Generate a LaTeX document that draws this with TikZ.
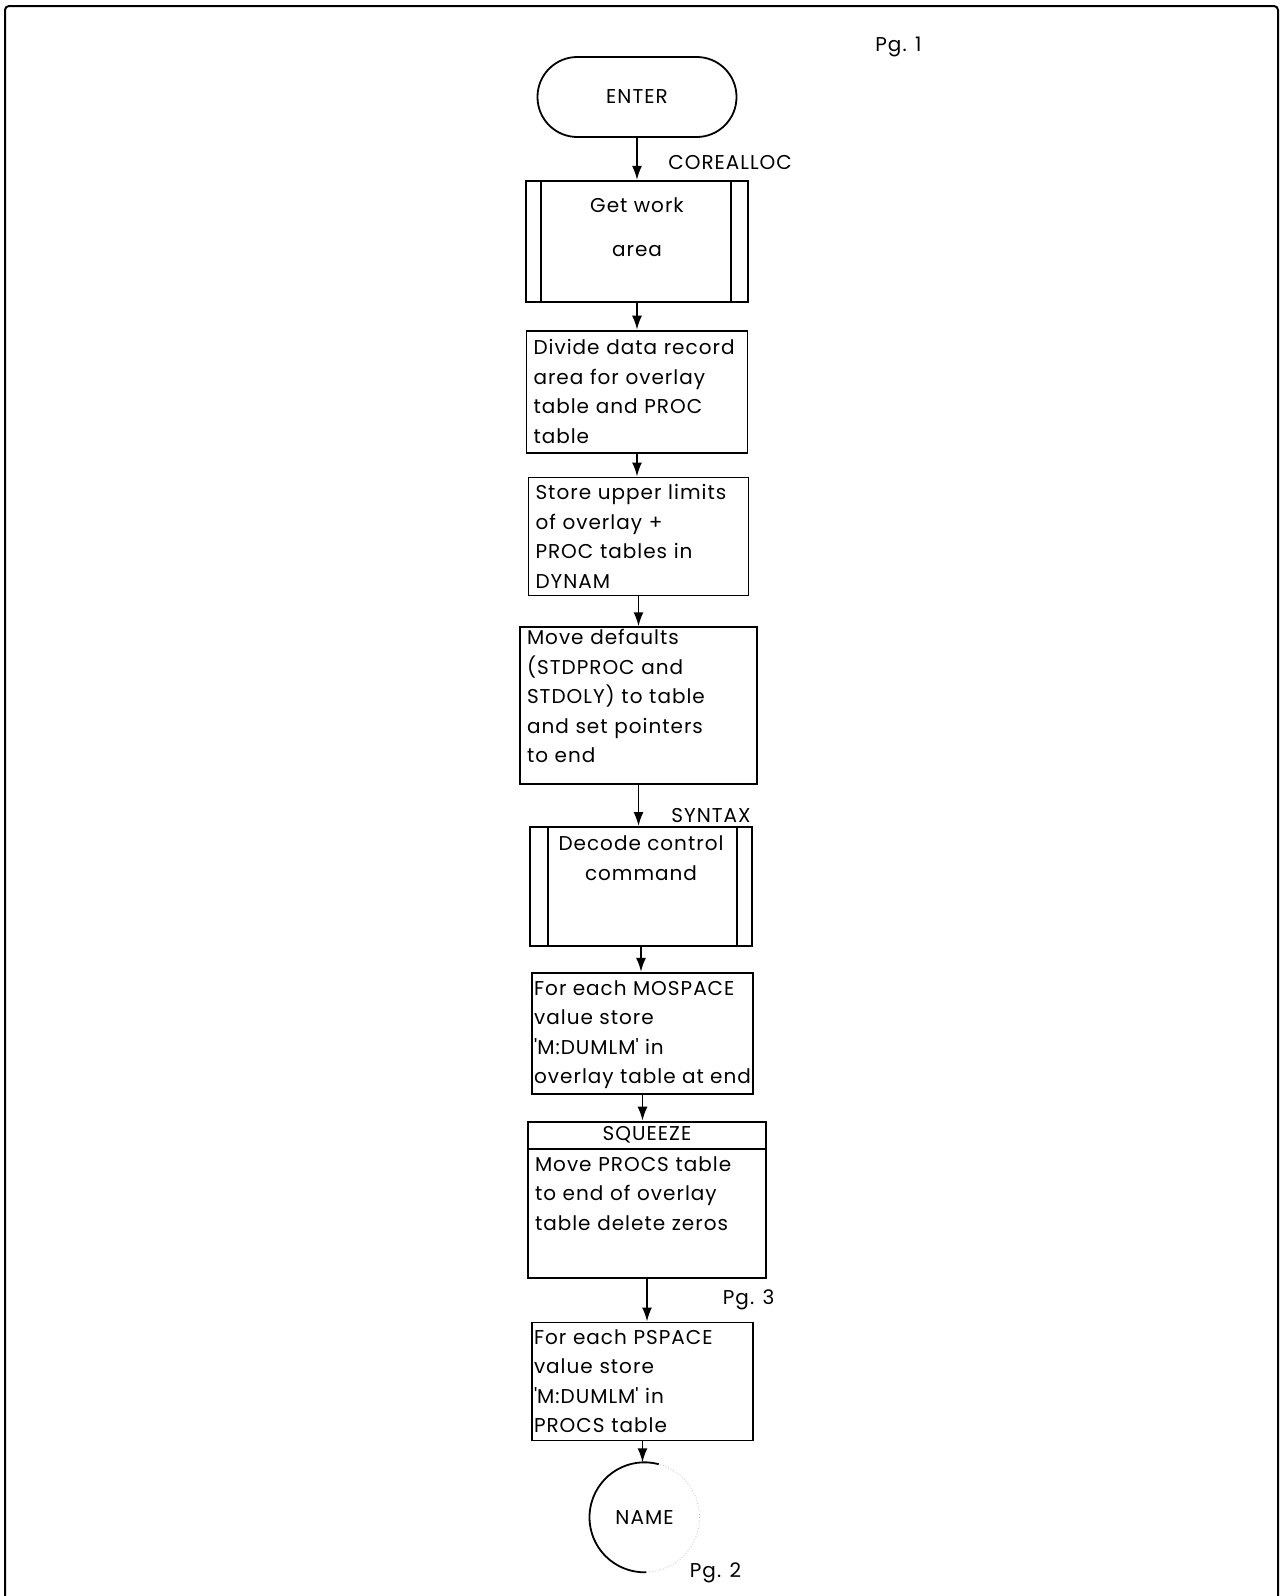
\documentclass[tikz,border=0pt]{standalone}
\usepackage{fontspec}
\setmainfont{Poppins}[LetterSpace=5]
\usetikzlibrary{arrows.meta,positioning}

\begin{document}
\begin{tikzpicture}[
  x=0.5pt, y=-0.5pt,
  font=\fontsize{10}{14.75}\selectfont,
  terminal/.style={rectangle, rounded corners=19.9pt, draw, line width=0.9pt, minimum width=99.5pt, minimum height=40pt},
  stepbox/.style={rectangle, draw, line width=0.9pt, align=left, inner xsep=3.5pt, inner ysep=3.5pt},
  subbox/.style={rectangle, draw, line width=0.9pt, align=center, minimum width=111pt, minimum height=60pt},
  connector/.style={circle, minimum size=55pt, inner sep=0pt, outer sep=0pt},
  lbl/.style={inner sep=0pt},
  arrow/.style={-{Latex[length=7pt,width=5pt]}, line width=0.9pt}
]
\useasboundingbox (0,0) rectangle (1285,1596);
% page frame, open at the bottom
\draw[line width=1pt, rounded corners=2pt] (5,1596) -- (5,6) -- (1278,6) -- (1278,1596);

\node[terminal] (enter) at (637,97) {ENTER};
\node[subbox, below=21pt of enter, minimum height=60.5pt, text height=34.5pt, text depth=19pt] (work) {Get work\\[7.25pt]area};
\node[stepbox, text width=103.5pt, minimum height=61pt, below=13.5pt of work] (divide) {Divide data record\\area for overlay\\table and PROC\\table};
\node[stepbox, text width=103pt, minimum height=59pt, below=11.5pt of divide, xshift=0.75pt] (store) {Store upper limits\\of overlay +\\PROC tables in\\DYNAM};
\node[stepbox, text width=111.5pt, minimum height=78.5pt, inner ysep=1pt, text depth=68.5pt, below=15pt of store] (move) {Move defaults\\(STDPROC and\\STDOLY) to table\\and set pointers\\to end};
\node[subbox, minimum height=59.5pt, text height=23pt, text depth=29.5pt, below=20.5pt of move, xshift=1.25pt] (decode) {Decode control\\command};
\node[stepbox, inner xsep=0.5pt, inner ysep=2pt, minimum width=110.5pt, minimum height=60.5pt, text depth=1pt, below=12.5pt of decode, xshift=0.75pt] (mospace) {For each MOSPACE\\value store\\\textquotesingle M:DUMLM\textquotesingle{} in\\overlay table at end};
\node[stepbox, align=center, text width=112pt, minimum height=13.5pt, inner ysep=1pt, below=13pt of mospace, xshift=2.25pt] (squeeze) {SQUEEZE};
\node[stepbox, text width=112pt, minimum height=64.5pt, text depth=49.5pt, below=-0.9pt of squeeze] (squeezebody) {Move PROCS table\\to end of overlay\\table delete zeros};
\node[stepbox, inner xsep=1pt, text width=108.5pt, minimum height=59pt, below=21.5pt of squeezebody, xshift=-2.25pt] (pspace) {For each PSPACE\\value store\\\textquotesingle M:DUMLM\textquotesingle{} in\\PROCS table};
\node[connector, below=10.5pt of pspace, xshift=1pt] (name) {NAME};

% side bars of the predefined processes
\draw[line width=0.9pt] ([xshift=8pt]work.north west) -- ([xshift=8pt]work.south west);
\draw[line width=0.9pt] ([xshift=-9pt]work.north east) -- ([xshift=-9pt]work.south east);
\draw[line width=0.9pt] ([xshift=9.5pt]decode.north west) -- ([xshift=9.5pt]decode.south west);
\draw[line width=0.9pt] ([xshift=-8pt]decode.north east) -- ([xshift=-8pt]decode.south east);

% off-page connector, right half faded
\draw[line width=0.9pt] (name.75) arc[start angle=75, end angle=272, radius=27.5pt];
\draw[gray!50, densely dotted] (name.272) arc[start angle=272, end angle=435, radius=27.5pt];

\node[lbl, anchor=base west] (pg1) at ([xshift=119pt, yshift=2.5pt]enter.north) {Pg. 1};
\node[lbl, above right=5pt and 15.5pt of work.north] (corealloc) {COREALLOC};
\node[lbl, above right=1.5pt and 15pt of decode.north] (syntax) {SYNTAX};
\node[lbl, anchor=base west] (pg3) at ([xshift=40pt, yshift=8.5pt]pspace.north) {Pg. 3};
\node[lbl, anchor=base west] (pg2) at ([xshift=22.5pt, yshift=-2.5pt]name.south) {Pg. 2};

\draw[arrow] (enter.south) -- (enter.south |- work.north);
\draw[arrow] (work.south) -- (work.south |- divide.north);
\draw[arrow] (divide.south) -- (divide.south |- store.north);
\draw[arrow] (store.south) -- (store.south |- move.north);
\draw[arrow] (move.south) -- (move.south |- decode.north);
\draw[arrow] (decode.south) -- (decode.south |- mospace.north);
\draw[arrow] (mospace.south) -- (mospace.south |- squeeze.north);
\draw[arrow] (squeezebody.south) -- (squeezebody.south |- pspace.north);
\draw[arrow] (pspace.south) -- (pspace.south |- name.north);
\end{tikzpicture}
\end{document}
